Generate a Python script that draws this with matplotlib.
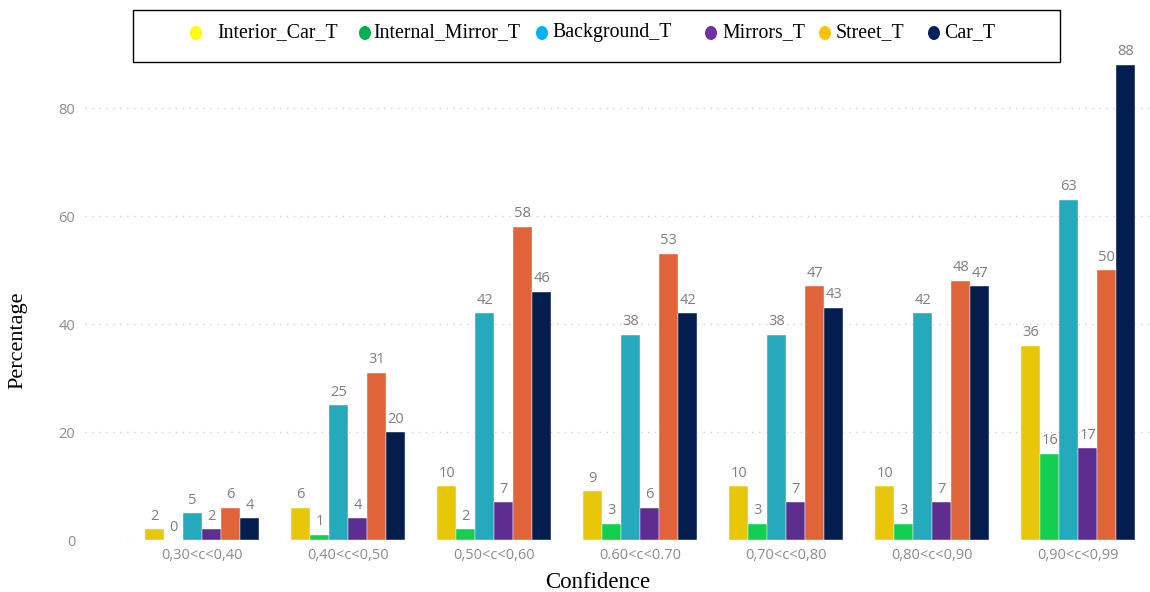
import matplotlib
matplotlib.use("Agg")
import matplotlib.pyplot as plt
from matplotlib.patches import Rectangle, Ellipse
import numpy as np

# Confidence bins and the share of detections per class in each bin (%)
bins = ["0,30<c<0,40", "0,40<c<0,50", "0,50<c<0,60", "0.60<c<0.70",
        "0,70<c<0,80", "0,80<c<0,90", "0,90<c<0,99"]
series_names = ["Interior_Car_T", "Internal_Mirror_T", "Background_T",
                "Mirrors_T", "Street_T", "Car_T"]
interior_car = [2, 6, 10, 9, 10, 10, 36]
internal_mirror = [0, 1, 2, 3, 3, 3, 16]
background = [5, 25, 42, 38, 38, 42, 63]
mirrors = [2, 4, 7, 6, 7, 7, 17]
street = [6, 31, 58, 53, 47, 48, 50]
car = [4, 20, 46, 42, 43, 47, 88]
yticks = [0, 20, 40, 60, 80]

series = [interior_car, internal_mirror, background, mirrors, street, car]
bar_colors = ["#E8C70A", "#12CF4F", "#25A9BD", "#5D2E90", "#E0633A", "#031E4E"]
legend_colors = ["#FFFF00", "#00B050", "#00B0F0", "#7030A0", "#FFC000", "#002060"]

W, H = 1150, 592
fig = plt.figure(figsize=(W / 100, H / 100), dpi=100)

def fx(px):
    return px / W

def fy(py):
    return 1 - py / H

ax_left, ax_bottom, ax_top = 85, 540, 60
ax = fig.add_axes([fx(ax_left), fy(ax_bottom), 1 - fx(ax_left),
                   (ax_bottom - ax_top) / H])

px_per_unit = 5.4
group_px = 146
first_center = 202
ax.set_ylim(0, (ax_bottom - ax_top) / px_per_unit)
ax.set_xlim(-(first_center - ax_left) / group_px, 6.49)

x = np.arange(len(bins))
width = 0.13
tick_gray = "#8C8C8C"
label_gray = "#7F7F7F"

for i, (vals, col) in enumerate(zip(series, bar_colors)):
    pos = x + (i - 2.5) * width
    ax.bar(pos, vals, width=width, color=col, zorder=3, clip_on=False,
           edgecolor="#FFFFFF", linewidth=0.3)
    for px_, v in zip(pos, vals):
        ax.text(px_, v + 1.0, str(v), ha="center", va="bottom",
                fontsize=10.5, color=label_gray, family="Open Sans", zorder=4)

ax.set_yticks(yticks)
ax.set_yticklabels([str(t) for t in yticks], family="Open Sans",
                   fontsize=10.5, color=tick_gray)
ax.set_xticks(x)
ax.set_xticklabels(bins, family="Open Sans", fontsize=10.5, color=tick_gray)
ax.tick_params(axis="both", length=0)
ax.tick_params(axis="y", pad=7)
ax.tick_params(axis="x", pad=6)
for s in ax.spines.values():
    s.set_visible(False)
ax.grid(axis="y", linestyle=(0, (1, 4)), color="#D0D0D0", linewidth=1.0, zorder=0)
ax.set_axisbelow(True)

fig.text(fx(18), fy(340), "Percentage", rotation=90, ha="center", va="center",
         family="Liberation Serif", fontsize=16)
fig.text(fx(598), fy(583), "Confidence", ha="center", va="center",
         family="Liberation Serif", fontsize=16.5)

# Legend box drawn across the top
fig.add_artist(Rectangle((fx(133), fy(62)), fx(1060) - fx(133), (62 - 10) / H,
                         transform=fig.transFigure, facecolor="white",
                         edgecolor="black", linewidth=1.0, zorder=10))
marker_x = [196, 365, 542, 711, 825, 934]
text_x = [217, 373, 552, 722, 836, 944]
for name, col, mx, tx in zip(series_names, legend_colors, marker_x, text_x):
    fig.add_artist(Ellipse((fx(mx), fy(33)), 12 / W, 14 / H,
                           transform=fig.transFigure, facecolor=col,
                           edgecolor="none", zorder=11))
    fig.text(fx(tx), fy(33), name, ha="left", va="center",
             family="Liberation Serif", fontsize=14.3, zorder=12)

fig.savefig("out.png", dpi=100)
